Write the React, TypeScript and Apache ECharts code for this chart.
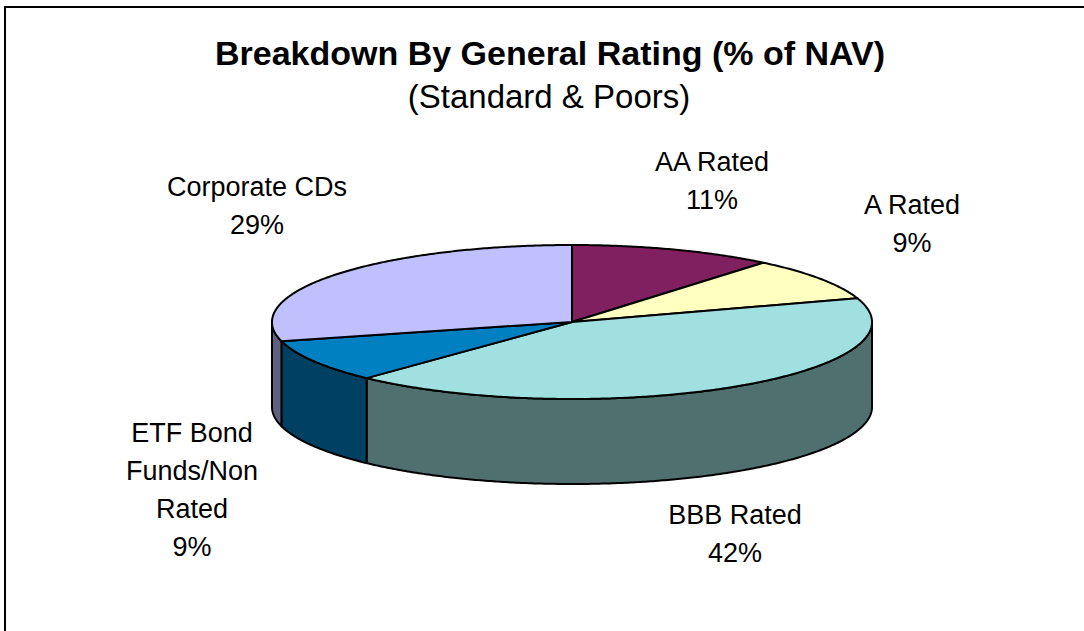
import React, { useEffect, useRef } from "react";
import * as echarts from "echarts";

// ---- data ----
const categories = ["AA Rated", "A Rated", "BBB Rated", "ETF Bond Funds/Non Rated", "Corporate CDs"];
const shares = [11, 9, 42, 9, 29];
const labelNames = ["AA Rated", "A Rated", "BBB Rated", "ETF Bond\nFunds/Non\nRated", "Corporate CDs"];

// ---- styles / layout ----
const topColors = ["#802060", "#ffffc0", "#a0e0e0", "#0080c0", "#c0c0ff"];
const sideColors = ["#401030", "#808060", "#507070", "#004060", "#606080"];
const labelCenters = [
  [712, 181],
  [912, 224],
  [735, 534],
  [192, 490],
  [257, 206],
];
const FONT = "'Liberation Sans', Arial, Helvetica, sans-serif";

export default function App() {
  const ref = useRef<HTMLDivElement>(null);
  useEffect(() => {
    if (!ref.current) return;
    const chart = echarts.init(ref.current, undefined, { renderer: "svg" });
    const total = shares.reduce((a, b) => a + b, 0);
    const starts: number[] = [];
    let acc = 0;
    shares.forEach((v) => {
      starts.push(acc);
      acc += v;
    });
    const cx = 572, cy = 322, rx = 300, ry = 77, depth = 85;

    const option: any = {
      animation: false,
      backgroundColor: "#ffffff",
      graphic: [
        {
          type: "rect",
          z: 0,
          shape: { x: 5, y: 7, width: 1200, height: 800 },
          style: { fill: "none", stroke: "#000", lineWidth: 2 },
        },
        {
          type: "text",
          x: 550,
          y: 53,
          style: {
            text: "Breakdown By General Rating (% of NAV)",
            font: `bold 34px ${FONT}`,
            fill: "#000",
            textAlign: "center",
            textVerticalAlign: "middle",
          },
        },
        {
          type: "text",
          x: 549,
          y: 96,
          style: {
            text: "(Standard & Poors)",
            font: `33px ${FONT}`,
            fill: "#000",
            textAlign: "center",
            textVerticalAlign: "middle",
          },
        },
        ...labelNames.map((n, i) => ({
          type: "text",
          x: labelCenters[i][0],
          y: labelCenters[i][1],
          style: {
            text: `${n}\n${shares[i]}%`,
            font: `27px ${FONT}`,
            lineHeight: 38,
            fill: "#000",
            textAlign: "center",
            textVerticalAlign: "middle",
          },
        })),
      ],
      series: [
        {
          type: "custom",
          name: "Rating",
          coordinateSystem: "none",
          z: 2,
          data: shares.map((v, i) => ({ name: categories[i], value: [i, v] })),
          renderItem: (params: any, api: any) => {
            const i = params.dataIndex;
            const v = api.value(1);
            const a0 = (starts[i] / total) * Math.PI * 2;
            const a1 = a0 + (v / total) * Math.PI * 2;
            const pt = (a: number, dy = 0) => [cx + rx * Math.sin(a), cy - ry * Math.cos(a) + dy];
            const arc = (s: number, e: number) => {
              const n = Math.max(2, Math.ceil((e - s) / (Math.PI / 360)));
              const pts: number[][] = [];
              for (let k = 0; k <= n; k++) pts.push(pt(s + ((e - s) * k) / n));
              return pts;
            };
            const children: any[] = [];
            const ws = Math.max(a0, Math.PI / 2);
            const we = Math.min(a1, (Math.PI * 3) / 2);
            if (we > ws) {
              const topEdge = arc(ws, we);
              const bottom = topEdge.map((p) => [p[0], p[1] + depth]).reverse();
              children.push({
                type: "polygon",
                shape: { points: topEdge.concat(bottom) },
                style: { fill: sideColors[i], stroke: "#000", lineWidth: 2, lineJoin: "round" },
              });
            }
            children.push({
              type: "polygon",
              shape: { points: [[cx, cy], ...arc(a0, a1)] },
              style: { fill: topColors[i], stroke: "#000", lineWidth: 2, lineJoin: "round" },
            });
            return { type: "group", children };
          },
        },
      ],
    };
    chart.setOption(option);
    return () => chart.dispose();
  }, []);
  return (
    <div
      ref={ref}
      style={{ position: "fixed", left: 0, top: 0, width: 1084, height: 631 }}
    />
  );
}
